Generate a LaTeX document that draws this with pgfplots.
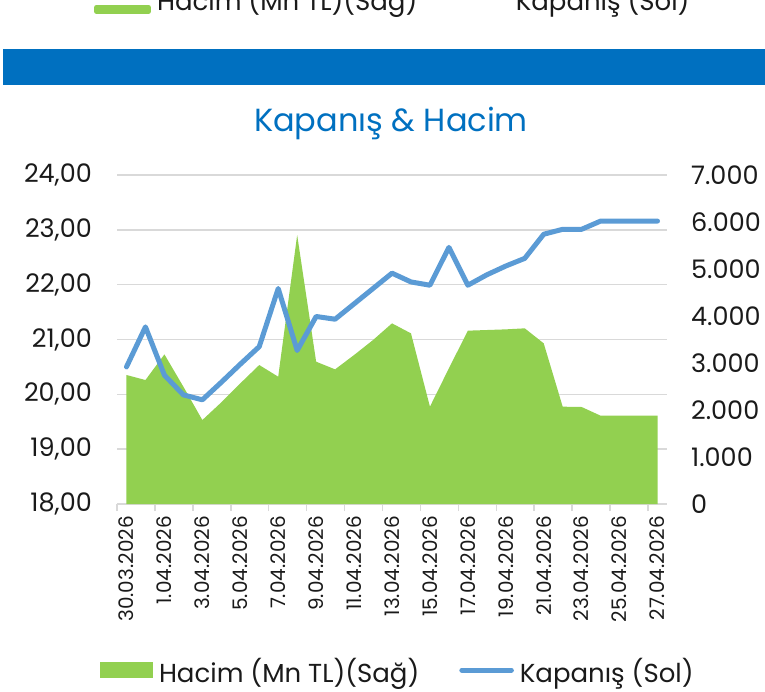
\documentclass[border=0pt]{standalone}
\usepackage{pgfplots}
\usepackage{pgfplotstable}
\pgfplotsset{compat=1.18}
\usepackage{fontspec}
\setmainfont{Poppins}
\definecolor{bandblue}{HTML}{0070C0}
\definecolor{titleblue}{HTML}{0070C0}
\definecolor{linecol}{HTML}{5B9BD5}
\definecolor{areacol}{HTML}{92D050}
\definecolor{gridcol}{HTML}{D9D9D9}
\definecolor{txt}{HTML}{1A1A1A}

\pgfplotstableread{
i close vol
0 20.50 2745
1 21.23 2638
2 20.35 3184
3 19.99 2496
4 19.90 1787
5 20.22 2163
6 20.55 2567
7 20.87 2957
8 21.93 2709
9 20.80 5723
10 21.42 3028
11 21.37 2865
12 21.65 3170
13 21.93 3489
14 22.21 3844
15 22.05 3631
16 21.99 2071
17 22.68 2887
18 21.99 3688
19 22.18 3702
20 22.34 3716
21 22.48 3738
22 22.92 3418
23 23.01 2071
24 23.01 2064
25 23.16 1879
26 23.16 1879
27 23.16 1879
28 23.16 1879
}\data

\pgfplotsset{
  base/.style={
    at={(117pt,-504pt)}, anchor=south west, scale only axis,
    width=550pt, height=329pt,
    xmin=-0.5, xmax=28.5,
  },
  areaimg/.style={legend image code/.code={\fill[areacol] (0pt,-8pt) rectangle (53pt,8pt);}},
  lineimg/.style={legend image code/.code={\draw[linecol, line width=5pt, line cap=round] (2.5pt,0pt) -- (52pt,0pt);}},
  areaimgtop/.style={legend image code/.code={\fill[areacol] (0pt,-13pt) rectangle (52pt,-9pt);}},
  lineimgtop/.style={legend image code/.code={\path (0pt,0pt) -- (52pt,0pt);}},
  legsty/.style={
    legend columns=2,
    legend style={draw=none, fill=none, inner sep=0pt, outer sep=0pt,
      font=\fontsize{26}{30}\selectfont, text=txt,
      nodes={inner sep=0pt, text depth=0pt},
      /tikz/every odd column/.append style={column sep=6pt},
      /tikz/every even column/.append style={column sep=40pt}},
    legend cell align=left,
  },
}

\begin{document}
\begin{tikzpicture}[x=1pt,y=1pt]
\fill[bandblue] (3,-49) rectangle (765,-85);
\node[text=titleblue, font=\fontsize{32}{36}\selectfont] at (391,-123) {Kapanış \& Hacim};

% base axis: grid, left labels, x labels
\begin{axis}[base,
  ymin=18, ymax=24,
  axis x line*=bottom, axis y line*=left,
  x axis line style={gridcol, line width=1.5pt, -},
  y axis line style={draw=none},
  ytick={18,19,...,24},
  ymajorgrids, grid style={gridcol, line width=1.5pt},
  major tick length=0pt,
  xtick={0,2,...,28},
  xticklabels={30.03.2026,1.04.2026,3.04.2026,5.04.2026,7.04.2026,9.04.2026,11.04.2026,13.04.2026,15.04.2026,17.04.2026,19.04.2026,21.04.2026,23.04.2026,25.04.2026,27.04.2026},
  minor xtick={-0.5,1.5,...,27.5},
  minor tick length=7pt, tick align=outside,
  minor tick style={gridcol, line width=1.5pt},
  major tick style={draw=none},
  xticklabel style={rotate=90, anchor=east, inner sep=0pt, font=\fontsize{20}{22}\selectfont, text=txt},
  xticklabel shift=12pt,
  yticklabel style={anchor=east, inner sep=0pt, xshift=-25pt, font=\fontsize{25.5}{28}\selectfont, text=txt,
    /pgf/number format/.cd, fixed, fixed zerofill, precision=2, use comma, assume math mode=true},
]
\addplot[draw=none, forget plot] coordinates {(0,18)};
\end{axis}

% right axis: area
\begin{axis}[base,
  ymin=0, ymax=7000,
  axis x line=none, axis y line*=right,
  y axis line style={draw=none},
  ytick={0,1000,...,7000},
  major tick length=0pt,
  scaled y ticks=false,
  yticklabel style={anchor=west, inner sep=0pt, xshift=24pt, font=\fontsize{25.5}{28}\selectfont, text=txt,
    /pgf/number format/.cd, fixed, 1000 sep={.}, assume math mode=true},
  legsty, legend style={at={(-0.0309,-0.5046)}, anchor=west},
]
\addplot[fill=areacol, draw=none, areaimg] table[x=i, y=vol] {\data} \closedcycle;
\addlegendentry{Hacim (Mn TL)(Sağ)}
\addlegendimage{lineimg}
\addlegendentry{Kapanış (Sol)}
\end{axis}

% line axis
\begin{axis}[base, ymin=18, ymax=24, hide axis, clip=false,
  legsty, legend style={at={(-0.0418,1.5319)}, anchor=west}]
\addplot[linecol, line width=5pt, line join=round, line cap=round, areaimgtop] table[x=i, y=close] {\data};
\addlegendentry{Hacim (Mn TL)(Sağ)}
\addlegendimage{lineimgtop}
\addlegendentry{Kapanış (Sol)}
\end{axis}

\pgfresetboundingbox
\useasboundingbox (0,0) rectangle (765,-691);
\end{tikzpicture}
\end{document}
